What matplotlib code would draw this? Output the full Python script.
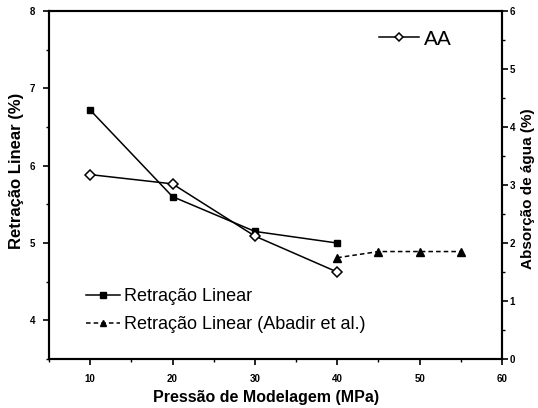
import matplotlib
matplotlib.use("Agg")
import matplotlib.pyplot as plt
from matplotlib.ticker import MultipleLocator

plt.rcParams["font.family"] = ["Liberation Sans", "DejaVu Sans"]

# ---------------- DATA ----------------
pressao = [10, 20, 30, 40]
retracao = [6.72, 5.60, 5.15, 5.00]
absorcao = [3.18, 3.02, 2.12, 1.50]

pressao_abadir = [40, 45, 50, 55]
retracao_abadir = [4.81, 4.89, 4.89, 4.89]

# ---------------- PLOT ----------------
fig = plt.figure(figsize=(5.38, 4.08), dpi=100)
ax = fig.add_axes([0.091, 0.120, 0.842, 0.853])
ax2 = ax.twinx()

l1, = ax.plot(pressao, retracao, color="black", lw=1.1, marker="s",
              ms=5, mfc="black", label="Retração Linear")
l2, = ax.plot(pressao_abadir, retracao_abadir, color="black", lw=1.1,
              ls=(0, (3, 2)), marker="^", ms=6, mfc="black",
              label="Retração Linear (Abadir et al.)")
l3, = ax2.plot(pressao, absorcao, color="black", lw=1.1, marker="D",
               ms=5, mfc="white", mew=1.1, label="AA")

ax.set_xlim(5, 60)
ax.set_ylim(3.5, 8)
ax2.set_ylim(0, 6)

ax.xaxis.set_major_locator(MultipleLocator(10))
ax.xaxis.set_minor_locator(MultipleLocator(5))
ax.yaxis.set_major_locator(MultipleLocator(1))
ax.yaxis.set_minor_locator(MultipleLocator(0.5))
ax2.yaxis.set_major_locator(MultipleLocator(1))
ax2.yaxis.set_minor_locator(MultipleLocator(0.5))

ax.set_xticks([10, 20, 30, 40, 50, 60])
for a in (ax, ax2):
    a.tick_params(which="major", direction="out", length=4, width=1.2,
                  labelsize=7, pad=6)
    a.tick_params(which="minor", direction="out", length=2.5, width=1.0)
    for s in a.spines.values():
        s.set_linewidth(1.5)
ax.tick_params(axis="x", pad=7)
ax2.tick_params(axis="y", pad=1.5)

for lab in ax.get_xticklabels() + ax.get_yticklabels() + ax2.get_yticklabels():
    lab.set_fontweight("bold")

ax.set_xlabel("Pressão de Modelagem (MPa)", fontsize=11.5, fontweight="bold")
ax.xaxis.set_label_coords(0.48, -0.09)
ax.set_ylabel("Retração Linear (%)", fontsize=12, fontweight="bold")
ax.yaxis.set_label_coords(-0.056, 0.54)
ax2.set_ylabel("Absorção de água (%)", fontsize=11, fontweight="bold")
ax2.yaxis.set_label_coords(1.043, 0.49)

leg1 = ax.legend(handles=[l1, l2], loc="lower left",
                 bbox_to_anchor=(0.045, 0.028), frameon=False, fontsize=13,
                 handlelength=1.9, handletextpad=0.25, labelspacing=0.62)
leg1.legend_handles[0].set_markersize(4)
leg1.legend_handles[1].set_markersize(5)
leg2 = ax2.legend(handles=[l3], loc="upper right",
                  bbox_to_anchor=(0.93, 1.0), frameon=False, fontsize=15,
                  handlelength=1.9, handletextpad=0.25)
leg2.legend_handles[0].set_markersize(4.5)

fig.savefig("out.png", dpi=100)
